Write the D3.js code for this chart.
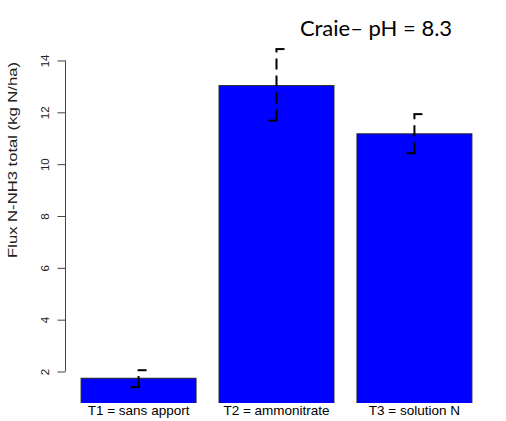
<!DOCTYPE html>
<html>
<head>
<meta charset="utf-8">
<script src="https://cdn.jsdelivr.net/npm/d3@7"></script>
<style>
  html, body { margin: 0; padding: 0; background: #fff; }
  svg { display: block; }
</style>
</head>
<body>
<svg id="chart" width="506" height="421"></svg>
<script>
// Treatments and measured total NH3-N flux (kg N/ha)
const categories = ["T1 = sans apport", "T2 = ammonitrate", "T3 = solution N"];
const fluxValues = [1.74, 13.03, 11.17];
const errLow = [1.40, 11.68, 10.42];
const errHigh = [2.05, 14.44, 11.93];
const yTicks = [2, 4, 6, 8, 10, 12, 14];
const titleText = "Craie– pH = 8.3";
const yLabel = "Flux N-NH3 total (kg N/ha)";

const svg = d3.select("#chart");
const plot = { left: 65.5, right: 487.5, top: 40, bottom: 403 };

// Bars laid out like R's barplot: width 1, space 0.2
const x = d3.scaleBand()
  .domain(categories)
  .range([plot.left + 15.6, plot.right - 15.6])
  .paddingInner(0.1667)
  .paddingOuter(0);

const y = d3.scaleLinear()
  .domain([0.785, 14.79])
  .range([plot.bottom, plot.top]);

svg.append("defs").append("clipPath").attr("id", "plotclip")
  .append("rect")
  .attr("x", plot.left).attr("y", plot.top)
  .attr("width", plot.right - plot.left)
  .attr("height", plot.bottom - plot.top);

const g = svg.append("g").attr("clip-path", "url(#plotclip)");

// Bars
g.selectAll("rect.bar")
  .data(categories)
  .join("rect")
  .attr("class", "bar")
  .attr("x", d => x(d))
  .attr("width", x.bandwidth())
  .attr("y", (d, i) => y(fluxValues[i]))
  .attr("height", (d, i) => y.range()[0] + 2 - y(fluxValues[i]))
  .attr("fill", "#0000ff")
  .attr("stroke", "#222")
  .attr("stroke-width", 1);

// Error bars: dashed stem drawn upward from the low end, half caps
// (low cap to the left, high cap to the right)
const cap = 8;
const eb = svg.append("g").attr("stroke", "#000").attr("stroke-width", 2).attr("fill", "none");
categories.forEach((c, i) => {
  const cx = x(c) + x.bandwidth() / 2;
  const yt = y(errHigh[i]);
  const yb = y(errLow[i]);
  eb.append("line")
    .attr("x1", cx).attr("x2", cx)
    .attr("y1", yb).attr("y2", yt)
    .attr("stroke-dasharray", "11,6");
  eb.append("line")
    .attr("x1", cx - cap).attr("x2", cx + 1)
    .attr("y1", yb).attr("y2", yb);
  eb.append("line")
    .attr("x1", cx - 1).attr("x2", cx + cap)
    .attr("y1", yt).attr("y2", yt);
});

// Y axis (R style: line spans first to last tick, vertical labels)
const axis = svg.append("g")
  .attr("transform", `translate(${plot.left},0)`)
  .call(d3.axisLeft(y).tickValues(yTicks).tickSize(8).tickSizeOuter(0).tickFormat(d3.format("d")));
axis.select(".domain").remove();
axis.append("line")
  .attr("x1", 0).attr("x2", 0)
  .attr("y1", y(yTicks[0])).attr("y2", y(yTicks[yTicks.length - 1]))
  .attr("stroke", "#444");
axis.selectAll(".tick line").attr("stroke", "#444");
axis.selectAll(".tick text")
  .attr("x", 0).attr("y", 0).attr("dy", null)
  .attr("text-anchor", "middle")
  .attr("transform", "translate(-20,0) rotate(-90)")
  .attr("dominant-baseline", "middle")
  .style("font-family", "Liberation Sans, Arial, sans-serif")
  .style("font-size", "11.5px")
  .attr("fill", "#222");

// Category labels
svg.selectAll("text.cat")
  .data(categories)
  .join("text")
  .attr("class", "cat")
  .attr("x", d => x(d) + x.bandwidth() / 2)
  .attr("y", 414.5)
  .attr("text-anchor", "middle")
  .style("font-family", "Liberation Sans, Arial, sans-serif")
  .style("font-size", "13.5px")
  .attr("fill", "#000")
  .text(d => d);

// Y axis title
svg.append("text")
  .attr("transform", "translate(17,160) rotate(-90)")
  .attr("text-anchor", "middle")
  .attr("textLength", 196)
  .attr("lengthAdjust", "spacingAndGlyphs")
  .style("font-family", "Liberation Sans, Arial, sans-serif")
  .style("font-size", "12.5px")
  .attr("fill", "#222")
  .text(yLabel);

// Chart title
svg.append("text")
  .attr("x", 376)
  .attr("y", 36)
  .attr("text-anchor", "middle")
  .style("font-family", "Lato, 'Open Sans', sans-serif")
  .style("font-size", "22px")
  .attr("fill", "#000")
  .text(titleText);
</script>
</body>
</html>
